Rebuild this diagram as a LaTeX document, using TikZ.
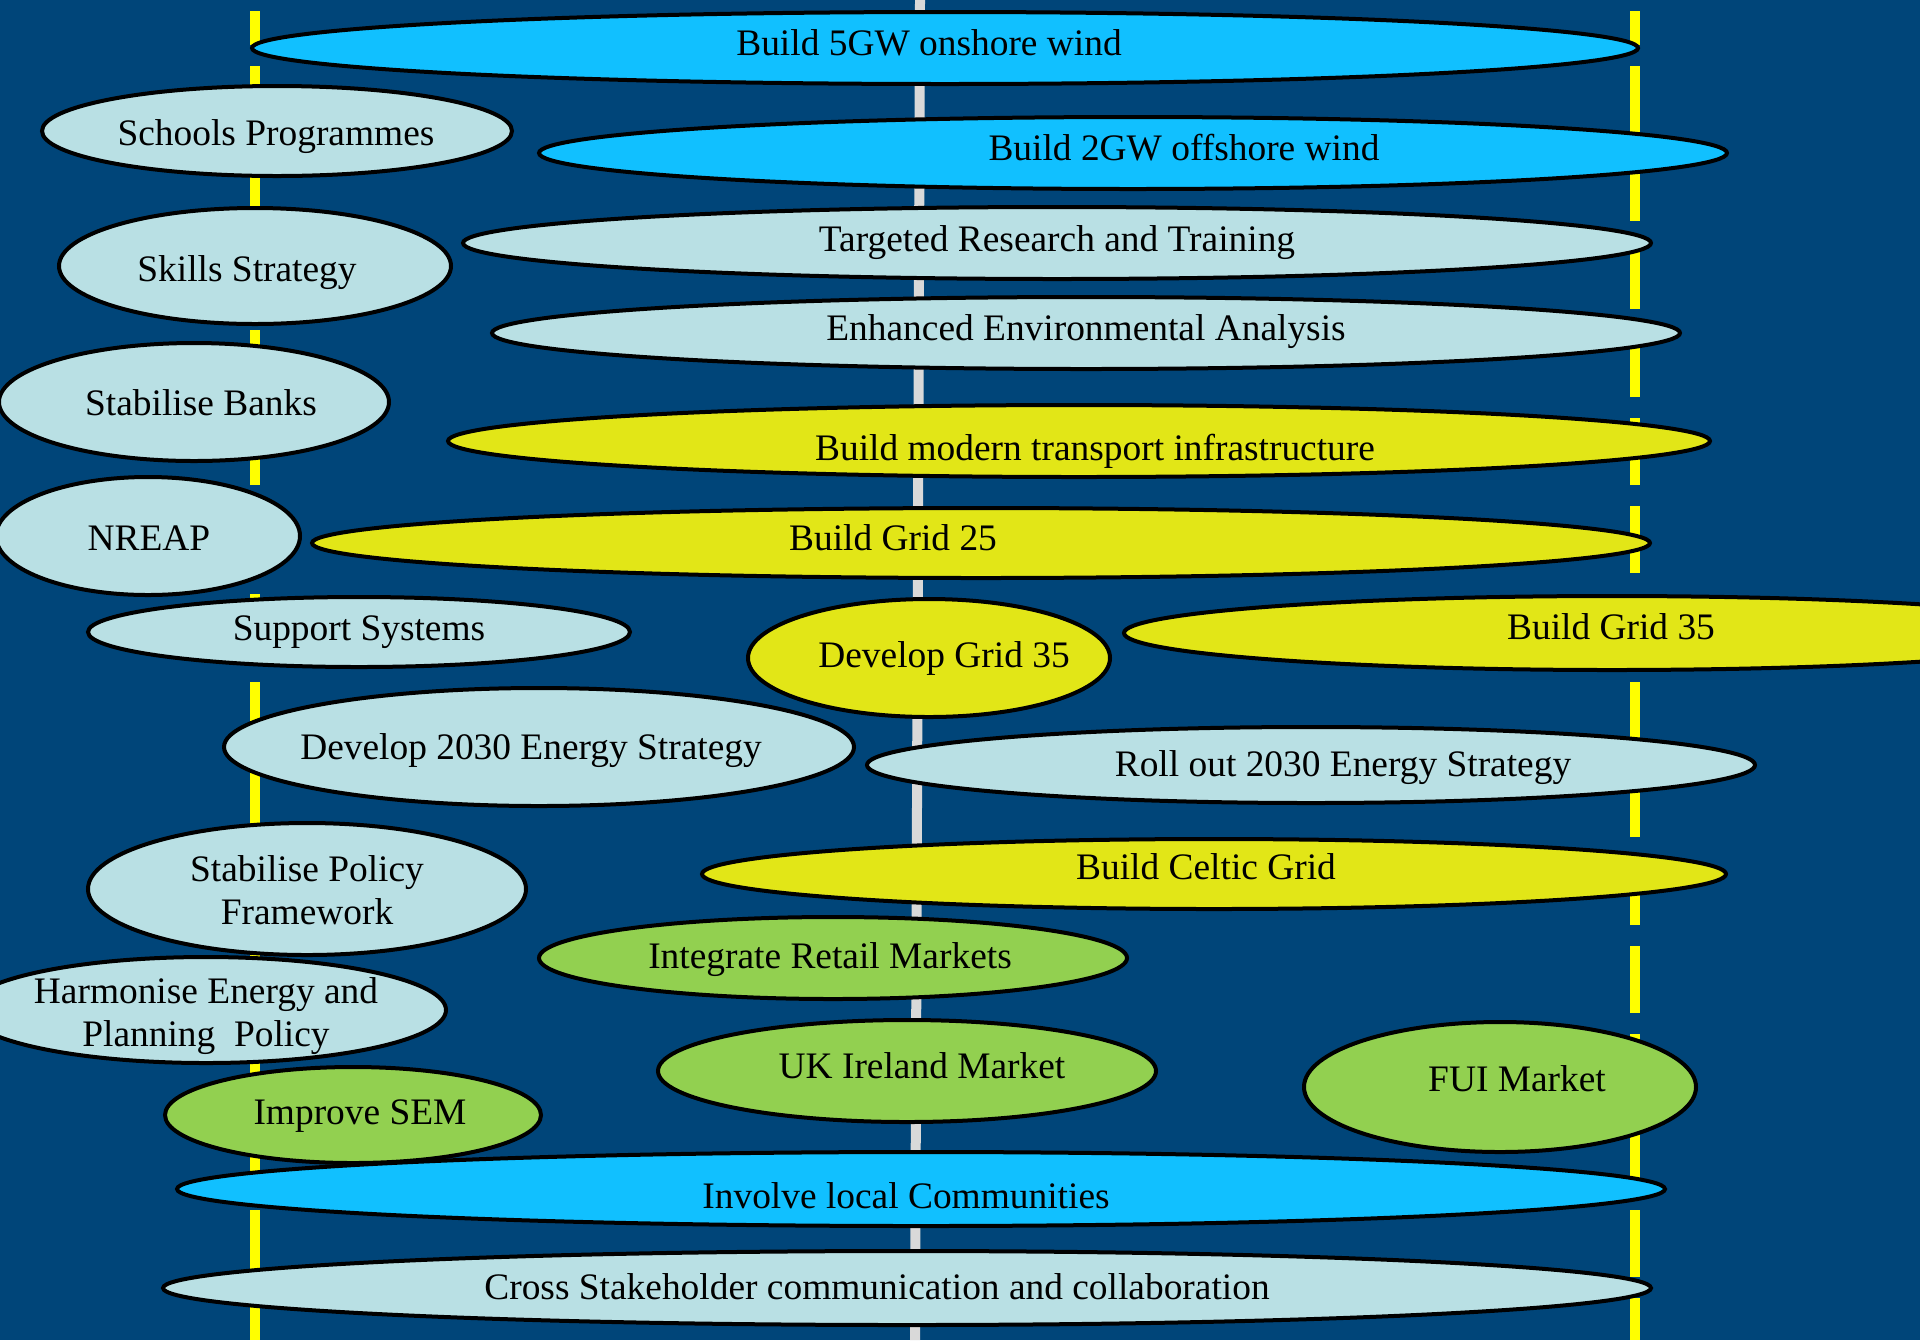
\documentclass[tikz,border=0pt]{standalone}
\usepackage{fontspec}
\setmainfont{Liberation Serif}
\usetikzlibrary{shapes.geometric}

\definecolor{bgBlue}{RGB}{0,69,121}
\definecolor{windBlue}{RGB}{17,192,255}
\definecolor{paleBlue}{RGB}{185,224,228}
\definecolor{gridYellow}{RGB}{226,230,23}
\definecolor{marketGreen}{RGB}{146,208,80}
\definecolor{laneGrey}{RGB}{217,217,217}
\definecolor{laneYellow}{RGB}{255,255,0}

\newcommand{\pictureW}{1920}
\newcommand{\pictureH}{1340}
\newcommand{\leftLaneX}{255}
\newcommand{\rightLaneX}{1635}
\newcommand{\laneTopY}{11}

\tikzset{
  task/.style={ellipse, draw=black, line width=2pt, inner sep=0pt},
  windTask/.style={task, fill=windBlue},
  paleTask/.style={task, fill=paleBlue},
  gridTask/.style={task, fill=gridYellow},
  marketTask/.style={task, fill=marketGreen},
  taskText/.style={inner sep=0pt, align=center, font=\fontsize{18.7}{21.5}\selectfont},
  yellowLane/.style={laneYellow, line width=5pt, dash pattern=on 33.5pt off 10.5pt, dash phase=16.5pt},
  greyLane/.style={laneGrey, line width=5pt}
}

\begin{document}
\begin{tikzpicture}[x=0.5pt, y=-0.5pt]
        % Background
        \useasboundingbox (0,0) rectangle (\pictureW,\pictureH);
        \clip (0,0) rectangle (\pictureW,\pictureH);
        \fill[bgBlue] (0,0) rectangle (\pictureW,\pictureH);

        % Lanes
        \coordinate (leftTop) at (\leftLaneX,\laneTopY);
        \coordinate (leftBottom) at (\leftLaneX,\pictureH);
        \coordinate (midTop) at (920,0);
        \coordinate (midBottom) at (915,\pictureH);
        \coordinate (rightTop) at (\rightLaneX,\laneTopY);
        \coordinate (rightBottom) at (\rightLaneX,\pictureH);
        \draw[yellowLane] (leftTop) -- (leftBottom);
        \draw[greyLane] (midTop) -- (midBottom);
        \draw[yellowLane] (rightTop) -- (rightBottom);

        % Top rows
        \node[windTask, minimum width=693pt, minimum height=36pt] (onshore) at (945,48) {};
        \node[taskText] (onshoreText) at (929,43) {Build 5GW onshore wind};
        \node[paleTask, minimum width=235pt, minimum height=45pt] (schools) at (277,131) {};
        \node[taskText] (schoolsText) at (276,137) {Schools Programmes};
        \node[windTask, minimum width=594pt, minimum height=36pt] (offshore) at (1133,153) {};
        \node[taskText] (offshoreText) at (1184,148) {Build 2GW offshore wind};
        \node[paleTask, minimum width=594pt, minimum height=36pt] (research) at (1057,243) {};
        \node[taskText] (researchText) at (1057,243) {Targeted Research and Training};
        \node[paleTask, minimum width=196pt, minimum height=58pt] (skills) at (255,266) {};
        \node[taskText] (skillsText) at (247,273) {Skills Strategy};
        \node[paleTask, minimum width=594pt, minimum height=36pt] (environment) at (1086,333) {};
        \node[taskText] (environmentText) at (1086,332) {Enhanced Environmental Analysis};
        \node[paleTask, minimum width=195pt, minimum height=59pt] (banks) at (194,402) {};
        \node[taskText] (banksText) at (201,403) {Stabilise Banks};
        \node[gridTask, minimum width=631pt, minimum height=36pt] (transport) at (1079,441) {};
        \node[taskText] (transportText) at (1095,451) {Build modern transport infrastructure};
        \node[paleTask, minimum width=152pt, minimum height=59pt] (nreap) at (148,536) {};
        \node[taskText] (nreapText) at (149,538) {NREAP};
        \node[gridTask, minimum width=669pt, minimum height=35pt] (grid25) at (981,543) {};
        \node[taskText] (grid25Text) at (893,538) {Build Grid 25};

        % Middle rows
        \node[paleTask, minimum width=271pt, minimum height=35pt] (support) at (359,632) {};
        \node[taskText] (supportText) at (359,632) {Support Systems};
        \node[gridTask, minimum width=181pt, minimum height=59pt] (devGrid35) at (929,658) {};
        \node[taskText] (devGrid35Text) at (944,658) {Develop Grid 35};
        \node[gridTask, minimum width=488pt, minimum height=37pt] (grid35) at (1612,633) {};
        \node[taskText] (grid35Text) at (1611,627) {Build Grid 35};
        \node[paleTask, minimum width=315pt, minimum height=59pt] (devStrategy) at (539,747) {};
        \node[taskText] (devStrategyText) at (531,751) {Develop 2030 Energy Strategy};
        \node[paleTask, minimum width=444pt, minimum height=38pt] (rollStrategy) at (1311,765) {};
        \node[taskText] (rollStrategyText) at (1343,768) {Roll out 2030 Energy Strategy};
        \node[gridTask, minimum width=512pt, minimum height=35pt] (celtic) at (1214,874) {};
        \node[taskText] (celticText) at (1206,867) {Build Celtic Grid};
        \node[paleTask, minimum width=219pt, minimum height=66pt] (policy) at (307,889) {};
        \node[taskText] (policyText) at (307,890) {Stabilise Policy\\Framework};
        \node[marketTask, minimum width=294pt, minimum height=41pt] (retail) at (833,958) {};
        \node[taskText] (retailText) at (830,960) {Integrate Retail Markets};
        \node[paleTask, minimum width=240pt, minimum height=53pt] (harmonise) at (206,1010) {};
        \node[taskText] (harmoniseText) at (206,1016) {Harmonise Energy and\\Planning\ \ Policy};

        % Bottom rows
        \node[marketTask, minimum width=249pt, minimum height=51pt] (ukIreland) at (907,1071) {};
        \node[taskText] (ukIrelandText) at (922,1066) {UK Ireland Market};
        \node[marketTask, minimum width=196pt, minimum height=65pt] (fui) at (1500,1087) {};
        \node[taskText] (fuiText) at (1517,1079) {FUI Market};
        \node[windTask, minimum width=744pt, minimum height=37pt] (communities) at (921,1189) {};
        \node[taskText] (communitiesText) at (906,1196) {Involve local Communities};
        \node[marketTask, minimum width=188pt, minimum height=48pt] (sem) at (353,1115) {};
        \node[taskText] (semText) at (360,1116) {Improve SEM};
        \node[paleTask, minimum width=744pt, minimum height=37pt] (stakeholder) at (907,1288) {};
        \node[taskText] (stakeholderText) at (877,1287) {Cross Stakeholder communication and collaboration};
\end{tikzpicture}
\end{document}
